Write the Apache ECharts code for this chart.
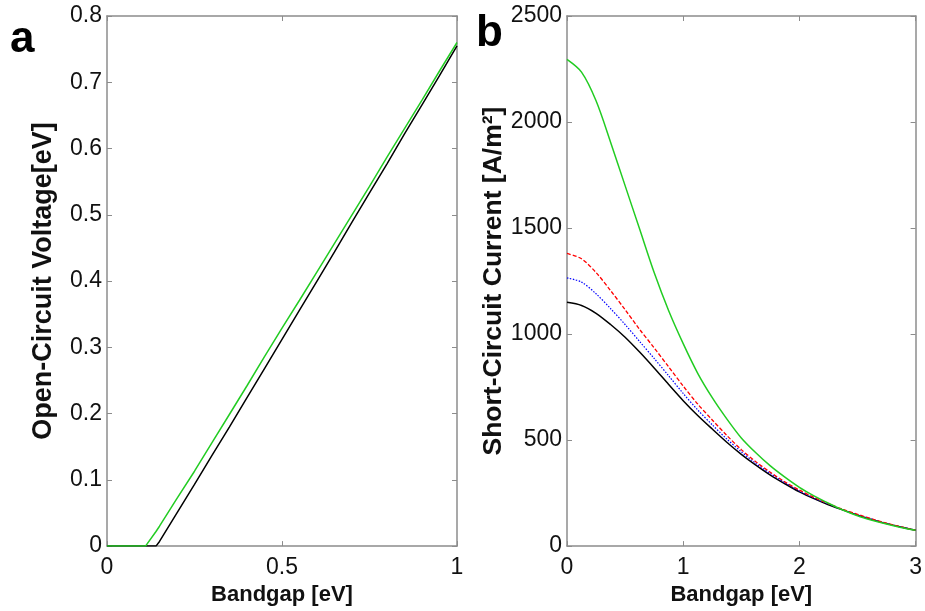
<!DOCTYPE html>
<html>
<head>
<meta charset="utf-8">
<script src="https://cdn.jsdelivr.net/npm/echarts@6/dist/echarts.min.js"></script>
<style>html,body{margin:0;padding:0;background:#fff}#c{width:925px;height:611px}</style>
</head>
<body>
<div id="c"></div>
<script>
// Panel a: Open-circuit voltage vs bandgap
const bandgapA = [0, 0.05, 0.1, 0.11, 0.14, 0.15, 0.2, 0.25, 0.3, 0.35, 0.4, 0.45, 0.5, 0.55, 0.6, 0.65, 0.7, 0.75, 0.8, 0.85, 0.9, 0.95, 1.0];
const vocGreen = [0, 0, 0, 0, 0.022, 0.03, 0.072, 0.113, 0.156, 0.199, 0.242, 0.286, 0.329, 0.371, 0.414, 0.457, 0.5, 0.543, 0.587, 0.63, 0.673, 0.717, 0.76];
const vocBlack = [0, 0, 0, 0, 0, 0.007, 0.05, 0.093, 0.137, 0.18, 0.224, 0.268, 0.312, 0.356, 0.4, 0.444, 0.489, 0.533, 0.577, 0.622, 0.666, 0.71, 0.755];

// Panel b: Short-circuit current vs bandgap
const bandgapB = [0, 0.125, 0.25, 0.375, 0.5, 0.625, 0.75, 0.875, 1.0, 1.125, 1.25, 1.375, 1.5, 1.625, 1.75, 1.875, 2.0, 2.125, 2.25, 2.375, 2.5, 2.625, 2.75, 2.875, 3.0];
const jscGreen = [2295, 2235, 2100, 1905, 1700, 1495, 1290, 1110, 955, 815, 700, 600, 510, 440, 378, 325, 277, 237, 202, 170, 143, 122, 104, 88, 75];
const jscRed   = [1380, 1355, 1290, 1205, 1115, 1022, 935, 845, 755, 670, 595, 522, 455, 398, 348, 303, 264, 230, 200, 173, 150, 128, 108, 91, 75];
const jscBlue  = [1265, 1245, 1190, 1120, 1045, 965, 885, 803, 720, 642, 572, 505, 445, 390, 342, 299, 260, 227, 198, 172, 148, 127, 107, 90, 75];
const jscBlack = [1150, 1135, 1098, 1045, 985, 915, 840, 762, 686, 616, 552, 490, 433, 382, 335, 294, 256, 224, 195, 170, 146, 125, 106, 90, 75];

const pair = (xs, ys) => xs.map((x, i) => [x, ys[i]]);
const FONT = "'Liberation Sans', Arial, sans-serif";
const AXC = '#8c8c8c';
const GREEN = '#22cc22';
const LBL = { color: '#111', fontSize: 23, fontFamily: FONT };

function baseAxis(extra) {
  return Object.assign({
    type: 'value',
    axisLine: { show: true, onZero: false, lineStyle: { color: AXC, width: 1.5 } },
    axisTick: { show: true, inside: true, length: 5, lineStyle: { color: AXC, width: 1 } },
    splitLine: { show: false }
  }, extra);
}
function mirror(gridIndex, min, max, interval, position) {
  return {
    type: 'value', gridIndex, min, max, interval, position,
    axisLine: { show: true, onZero: false, lineStyle: { color: AXC, width: 1.5 } },
    axisTick: { show: true, inside: true, length: 5, lineStyle: { color: AXC, width: 1 } },
    axisLabel: { show: false },
    splitLine: { show: false }
  };
}
const nameStyle = (size) => ({ color: '#111', fontSize: size, fontWeight: 'bold', fontFamily: FONT });

const chart = echarts.init(document.getElementById('c'), null, { renderer: 'canvas' });
chart.setOption({
  backgroundColor: '#fff',
  animation: false,
  grid: [
    { left: 107, top: 16, width: 350, height: 533 },
    { left: 567, top: 16, width: 351, height: 533 }
  ],
  xAxis: [
    baseAxis({ gridIndex: 0, min: 0, max: 1, interval: 0.5, position: 'bottom',
      axisLabel: Object.assign({ margin: 10, formatter: v => String(v) }, LBL),
      name: 'Bandgap [eV]', nameLocation: 'middle', nameGap: 32, nameTextStyle: nameStyle(22) }),
    baseAxis({ gridIndex: 1, min: 0, max: 3, interval: 1, position: 'bottom',
      axisLabel: Object.assign({ margin: 10, formatter: v => String(v) }, LBL),
      name: 'Bandgap [eV]', nameLocation: 'middle', nameGap: 32, nameTextStyle: nameStyle(22) }),
    mirror(0, 0, 1, 0.5, 'top'),
    mirror(1, 0, 3, 1, 'top')
  ],
  yAxis: [
    baseAxis({ gridIndex: 0, min: 0, max: 0.8, interval: 0.1, position: 'left',
      axisLabel: Object.assign({ margin: 5, formatter: v => String(Math.round(v * 10) / 10) }, LBL),
      name: 'Open-Circuit Voltage[eV]', nameLocation: 'middle', nameGap: 50, nameTextStyle: nameStyle(27) }),
    baseAxis({ gridIndex: 1, min: 0, max: 2500, interval: 500, position: 'left',
      axisLabel: Object.assign({ margin: 5, formatter: v => String(v) }, LBL),
      name: 'Short-Circuit Current [A/m²]', nameLocation: 'middle', nameGap: 42, nameTextStyle: nameStyle(26.5) }),
    mirror(0, 0, 0.8, 0.1, 'right'),
    mirror(1, 0, 2500, 500, 'right')
  ],
  graphic: [
    { type: 'text', left: 10, top: 18, style: { text: 'a', font: 'bold 44px ' + FONT, fill: '#000' } },
    { type: 'text', left: 476, top: 12, style: { text: 'b', font: 'bold 44px ' + FONT, fill: '#000' } }
  ],
  series: [
    { type: 'line', xAxisIndex: 0, yAxisIndex: 0, data: pair(bandgapA, vocBlack), showSymbol: false, lineStyle: { color: '#000', width: 1.5 }, z: 2 },
    { type: 'line', xAxisIndex: 0, yAxisIndex: 0, data: pair(bandgapA, vocGreen), showSymbol: false, lineStyle: { color: GREEN, width: 1.5 }, z: 3 },
    { type: 'line', xAxisIndex: 1, yAxisIndex: 1, data: pair(bandgapB, jscBlack), showSymbol: false, smooth: 0.3, lineStyle: { color: '#000', width: 1.5 } },
    { type: 'line', xAxisIndex: 1, yAxisIndex: 1, data: pair(bandgapB, jscBlue), showSymbol: false, smooth: 0.3, lineStyle: { color: '#0000ff', width: 1.2, type: [1.5, 1.5] } },
    { type: 'line', xAxisIndex: 1, yAxisIndex: 1, data: pair(bandgapB, jscRed), showSymbol: false, smooth: 0.3, lineStyle: { color: '#ff0000', width: 1.3, type: [4, 2] } },
    { type: 'line', xAxisIndex: 1, yAxisIndex: 1, data: pair(bandgapB, jscGreen), showSymbol: false, smooth: 0.3, lineStyle: { color: GREEN, width: 1.5 } }
  ]
});
</script>
</body>
</html>
